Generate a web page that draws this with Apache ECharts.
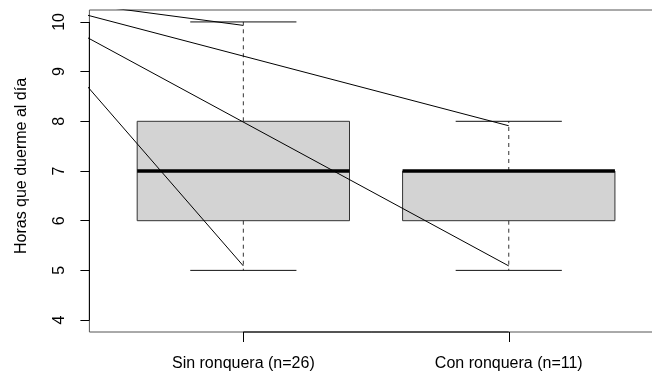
<!DOCTYPE html>
<html>
<head>
<meta charset="utf-8">
<script src="https://cdn.jsdelivr.net/npm/echarts@6/dist/echarts.min.js"></script>
<style>html,body{margin:0;padding:0;background:#fff;}#c{width:652px;height:374px;}</style>
</head>
<body>
<div id="c"></div>
<script>
// ---- data ----
const categories = ['Sin ronquera (n=26)', 'Con ronquera (n=11)'];
const whiskerLow = [5, 5];
const q1 = [6, 6];
const medians = [7, 7];
const q3 = [8, 7];
const whiskerHigh = [10, 8];
const yTicks = [4, 5, 6, 7, 8, 9, 10];
const xTicks = [1, 2];
// stray segments: from a common origin to whisker ends
const lineOrigin = [0.11, 10.56];
const lineEndX = [1, 1, 2, 2];
const lineEndY = [9.93, 5.09, 7.91, 5.09];

const xMin = 0.42, xMax = 2.58, yMin = 3.76, yMax = 10.24;
const FONT = "'Liberation Sans', Arial, sans-serif";

const boxData = categories.map((c, i) => [xTicks[i], whiskerLow[i], q1[i], medians[i], q3[i], whiskerHigh[i]]);

function renderBox(params, api) {
  const x = api.value(0);
  const pLow = api.coord([x, api.value(1)]);
  const pQ1 = api.coord([x, api.value(2)]);
  const pMed = api.coord([x, api.value(3)]);
  const pQ3 = api.coord([x, api.value(4)]);
  const pHigh = api.coord([x, api.value(5)]);
  const halfW = api.size([0.4, 0])[0];
  const capHalf = halfW / 2;
  const cx = pMed[0];
  const dashStyle = { stroke: '#333', lineWidth: 1, lineDash: [4, 4] };
  return {
    type: 'group',
    children: [
      { type: 'rect', shape: { x: cx - halfW, y: pQ3[1], width: 2 * halfW, height: pQ1[1] - pQ3[1] },
        style: { fill: '#d3d3d3', stroke: '#333', lineWidth: 1 } },
      { type: 'line', shape: { x1: cx, y1: pQ3[1], x2: cx, y2: pHigh[1] }, style: dashStyle },
      { type: 'line', shape: { x1: cx, y1: pQ1[1], x2: cx, y2: pLow[1] }, style: dashStyle },
      { type: 'line', shape: { x1: cx - capHalf, y1: pHigh[1], x2: cx + capHalf, y2: pHigh[1] }, style: { stroke: '#111', lineWidth: 1 } },
      { type: 'line', shape: { x1: cx - capHalf, y1: pLow[1], x2: cx + capHalf, y2: pLow[1] }, style: { stroke: '#111', lineWidth: 1 } },
      { type: 'line', shape: { x1: cx - halfW, y1: pMed[1], x2: cx + halfW, y2: pMed[1] }, style: { stroke: '#000', lineWidth: 3.5 } }
    ]
  };
}

function renderAxes(params, api) {
  if (params.dataIndex !== 0) return null;
  const a = api.coord([xMin, yTicks[0]]);
  const b = api.coord([xMin, yTicks[yTicks.length - 1]]);
  const c = api.coord([xTicks[0], yMin]);
  const d = api.coord([xTicks[xTicks.length - 1], yMin]);
  return {
    type: 'group',
    children: [
      { type: 'line', shape: { x1: a[0], y1: a[1], x2: b[0], y2: b[1] }, style: { stroke: '#000', lineWidth: 1 } },
      { type: 'line', shape: { x1: c[0], y1: c[1], x2: d[0], y2: d[1] }, style: { stroke: '#000', lineWidth: 1 } }
    ]
  };
}

const lineSeries = lineEndX.map((x, i) => ({
  type: 'line',
  data: [lineOrigin, [x, lineEndY[i]]],
  symbol: 'none',
  clip: true,
  silent: true,
  z: 5,
  lineStyle: { color: '#000', width: 1 }
}));

const chart = echarts.init(document.getElementById('c'), null, { renderer: 'canvas' });
chart.setOption({
  animation: false,
  backgroundColor: '#fff',
  textStyle: { fontFamily: FONT },
  grid: {
    left: 89.4, top: 10, right: -10.7, bottom: 42,
    show: true, borderColor: '#555', borderWidth: 1, backgroundColor: 'transparent',
    containLabel: false, outerBoundsMode: 'none'
  },
  xAxis: {
    type: 'value', min: xMin, max: xMax,
    axisLine: { show: false },
    splitLine: { show: false },
    axisTick: { show: true, customValues: xTicks, length: 10, lineStyle: { color: '#000' } },
    axisLabel: { customValues: xTicks, formatter: v => categories[Math.round(v) - 1] || '',
      fontSize: 16, color: '#000', margin: 24, fontFamily: FONT }
  },
  yAxis: {
    type: 'value', min: yMin, max: yMax,
    axisLine: { show: false },
    splitLine: { show: false },
    axisTick: { show: true, customValues: yTicks, length: 9, lineStyle: { color: '#000' } },
    axisLabel: { customValues: yTicks, rotate: 90, fontSize: 16, color: '#000', margin: 22, fontFamily: FONT },
    name: 'Horas que duerme al día',
    nameLocation: 'middle', nameRotate: 90, nameGap: 60,
    nameTextStyle: { fontSize: 16, color: '#000', fontFamily: FONT, padding: [0, 0, 0, 10] }
  },
  series: [
    { type: 'custom', renderItem: renderBox, data: boxData, z: 2, silent: true },
    ...lineSeries,
    { type: 'custom', renderItem: renderAxes, data: [[0, 0]], z: 6, silent: true }
  ]
});
</script>
</body>
</html>
